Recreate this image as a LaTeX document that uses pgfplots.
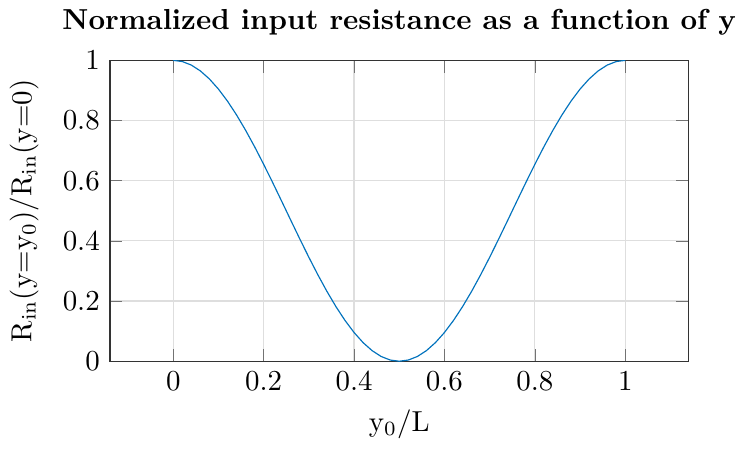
\documentclass[border=0pt]{standalone}
\usepackage{pgfplots}
\pgfplotsset{compat=1.18}
\definecolor{mycolor1}{rgb}{0.00000,0.44700,0.74100}
\begin{document}
\begin{tikzpicture}
\begin{axis}[
width=200pt, height=104pt, scale only axis,
xmin=-0.14, xmax=1.14, ymin=0, ymax=1,
xtick={0,0.2,0.4,0.6,0.8,1},
ytick={0,0.2,0.4,0.6,0.8,1},
xmajorgrids, ymajorgrids,
grid style={black!13},
axis line style={black!80},
tick style={black!55},
tick align=inside,
xlabel={$\mathrm{y_0/L}$},
ylabel={$\mathrm{R_{in}(y{=}y_0)/R_{in}(y{=}0)}$},
ylabel shift={1.5pt},
title={\bfseries Normalized input resistance as a function of y},
title style={inner xsep=0pt, yshift=-1pt},
axis background/.style={fill=white},
]
\addplot[color=mycolor1, forget plot] table[row sep=crcr]{
0 1\\
0.02 0.99606\\
0.04 0.98429\\
0.06 0.96489\\
0.08 0.93815\\
0.10 0.90451\\
0.12 0.86448\\
0.14 0.81871\\
0.16 0.76791\\
0.18 0.71289\\
0.20 0.65451\\
0.22 0.59369\\
0.24 0.53140\\
0.26 0.46860\\
0.28 0.40631\\
0.30 0.34549\\
0.32 0.28711\\
0.34 0.23209\\
0.36 0.18129\\
0.38 0.13552\\
0.40 0.09549\\
0.42 0.06185\\
0.44 0.03511\\
0.46 0.01571\\
0.48 0.00394\\
0.50 0\\
0.52 0.00394\\
0.54 0.01571\\
0.56 0.03511\\
0.58 0.06185\\
0.60 0.09549\\
0.62 0.13552\\
0.64 0.18129\\
0.66 0.23209\\
0.68 0.28711\\
0.70 0.34549\\
0.72 0.40631\\
0.74 0.46860\\
0.76 0.53140\\
0.78 0.59369\\
0.80 0.65451\\
0.82 0.71289\\
0.84 0.76791\\
0.86 0.81871\\
0.88 0.86448\\
0.90 0.90451\\
0.92 0.93815\\
0.94 0.96489\\
0.96 0.98429\\
0.98 0.99606\\
1.00 1\\
};
\end{axis}
\end{tikzpicture}
\end{document}
